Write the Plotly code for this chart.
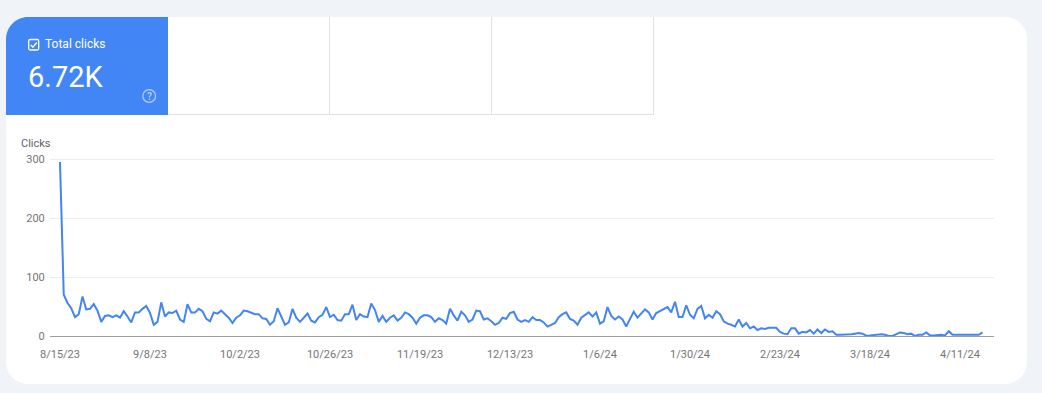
import pandas as pd
import plotly.graph_objects as go

clicks = [
295,70,56,47,32,37,67,45,46,54,43,24,34,35,32,35,31,42,33,23,
40,40,46,51,39,19,24,57,33,40,39,43,28,24,54,40,40,46,42,29,
25,40,38,43,37,31,22,31,35,43,42,40,37,37,30,29,19,25,47,33,
19,23,46,31,24,31,38,26,23,32,36,49,32,36,27,26,37,37,53,27,
37,33,32,55,44,24,34,24,31,35,26,31,40,37,31,21,31,35,35,32,
24,30,27,21,46,35,26,41,35,24,28,43,42,28,30,25,19,22,31,29,
39,41,28,24,27,24,32,27,27,23,16,19,22,32,37,40,29,26,19,31,
36,40,33,40,21,25,49,34,28,33,28,16,29,41,31,38,45,40,28,39,
42,46,49,40,58,32,32,52,36,30,46,51,30,36,31,42,37,25,21,19,
16,28,16,22,13,16,10,13,12,14,14,14,7,4,3,13,13,4,7,6,
10,4,11,5,11,7,8,2,2,2,3,3,4,5,4,0.5,1,2,3,3,
2,0,0,3,6,5,3,4,0,2,2,6,1,1,2,2,1,8,2,2,
2,2,1,2,2,2,6,
]
start_date = "2023-08-15"
tick_dates = ["2023-08-15","2023-09-08","2023-10-02","2023-10-26","2023-11-19",
              "2023-12-13","2024-01-06","2024-01-30","2024-02-23","2024-03-18","2024-04-11"]
tick_labels = ["8/15/23","9/8/23","10/2/23","10/26/23","11/19/23",
               "12/13/23","1/6/24","1/30/24","2/23/24","3/18/24","4/11/24"]
y_ticks = [0, 100, 200, 300]
dates = pd.date_range(start_date, periods=len(clicks), freq="D")

W, H = 1042, 393
L, R, T, B = 50, 994, 154, 336
BG = "#f0f4f9"
BLUE = "#4285f4"
FONT = "Roboto, Arial, sans-serif"

def px(x): return (x - L) / (R - L)
def py(y): return (B - y) / (B - T)
def pt(x, y): return f"{px(x):.5f},{py(y):.5f}"

def path(d, **kw):
    return dict(type="path", xref="paper", yref="paper", path=d, layer="below", **kw)

def rrect(x0, y0, x1, y1, r):
    k = r * 0.45
    return (f"M{pt(x0+r,y0)} L{pt(x1-r,y0)} C{pt(x1-k,y0)} {pt(x1,y0+k)} {pt(x1,y0+r)} "
            f"L{pt(x1,y1-r)} C{pt(x1,y1-k)} {pt(x1-k,y1)} {pt(x1-r,y1)} "
            f"L{pt(x0+r,y1)} C{pt(x0+k,y1)} {pt(x0,y1-k)} {pt(x0,y1-r)} "
            f"L{pt(x0,y0+r)} C{pt(x0,y0+k)} {pt(x0+k,y0)} {pt(x0+r,y0)} Z")

shapes = []
shapes.append(path(rrect(6, 17, 1027, 384, 22), fillcolor="white", line=dict(width=0)))
r, k = 22, 10
shapes.append(path(
    f"M{pt(6+r,17)} L{pt(168,17)} L{pt(168,115)} L{pt(6,115)} L{pt(6,17+r)} "
    f"C{pt(6,17+k)} {pt(6+k,17)} {pt(6+r,17)} Z",
    fillcolor=BLUE, line=dict(width=0)))
BORDER = "#dfe1e5"
for d in (f"M{pt(168,114.5)} L{pt(654,114.5)}", f"M{pt(329.5,17)} L{pt(329.5,115)}",
          f"M{pt(491.5,17)} L{pt(491.5,115)}", f"M{pt(653.5,17)} L{pt(653.5,115)}"):
    shapes.append(path(d, line=dict(color=BORDER, width=1)))
shapes.append(dict(type="path", xref="paper", yref="paper", layer="above",
                   path=rrect(28.7, 39.5, 38.7, 50, 1.5), line=dict(color="white", width=1.3)))
shapes.append(dict(type="path", xref="paper", yref="paper", layer="above",
                   path=f"M{pt(30.8,45)} L{pt(32.9,47.2)} L{pt(36.8,42.5)}",
                   line=dict(color="white", width=1.3)))
shapes.append(dict(type="circle", xref="paper", yref="paper", layer="above",
                   x0=px(142.8), x1=px(155.6), y0=py(102.4), y1=py(89.6),
                   line=dict(color="rgba(255,255,255,0.6)", width=1.3)))

def text(x, y, s, size, color, anchor="left", weight=None):
    return dict(xref="paper", yref="paper", x=px(x), y=py(y), text=s, showarrow=False,
                xanchor=anchor, yanchor="middle",
                font=dict(family=FONT, size=size, color=color, weight=weight))

annotations = [
    text(43, 44.5, "Total clicks", 12, "white"),
    text(26, 77, "6.72K", 29, "white"),
    text(149.2, 96.2, "?", 10, "rgba(255,255,255,0.65)", anchor="center", weight=500),
    text(19, 143.5, "Clicks", 11, "#5f6368"),
]

fig = go.Figure(go.Scatter(x=dates, y=clicks, mode="lines",
                           line=dict(color=BLUE, width=2), hoverinfo="skip"))
day_px = 3.75
x0 = pd.Timestamp(start_date) + pd.Timedelta(days=(L - 60) / day_px)
x1 = pd.Timestamp(start_date) + pd.Timedelta(days=(R - 60) / day_px)
fig.update_layout(
    width=W, height=H, margin=dict(l=L, r=W - R, t=T, b=H - B, pad=0),
    paper_bgcolor=BG, plot_bgcolor="rgba(0,0,0,0)", showlegend=False,
    font=dict(family=FONT, size=11, color="#757575"),
    shapes=shapes, annotations=annotations,
    xaxis=dict(type="date", range=[x0, x1], tickmode="array", tickvals=tick_dates,
               ticktext=tick_labels, showgrid=False, ticks="outside", ticklen=8,
               tickcolor="rgba(0,0,0,0)", zeroline=False, showline=True,
               linecolor="#9e9e9e", linewidth=1),
    yaxis=dict(range=[0, 308.47], tickmode="array", tickvals=y_ticks, showgrid=True,
               gridcolor="#eceef1", gridwidth=1, zeroline=False, showline=False,
               ticks="outside", ticklen=2, tickcolor="rgba(0,0,0,0)"),
)
fig.write_html("out.html", config=dict(displayModeBar=False),
               post_script=f"document.body.style.margin='0';document.body.style.background='{BG}';")
